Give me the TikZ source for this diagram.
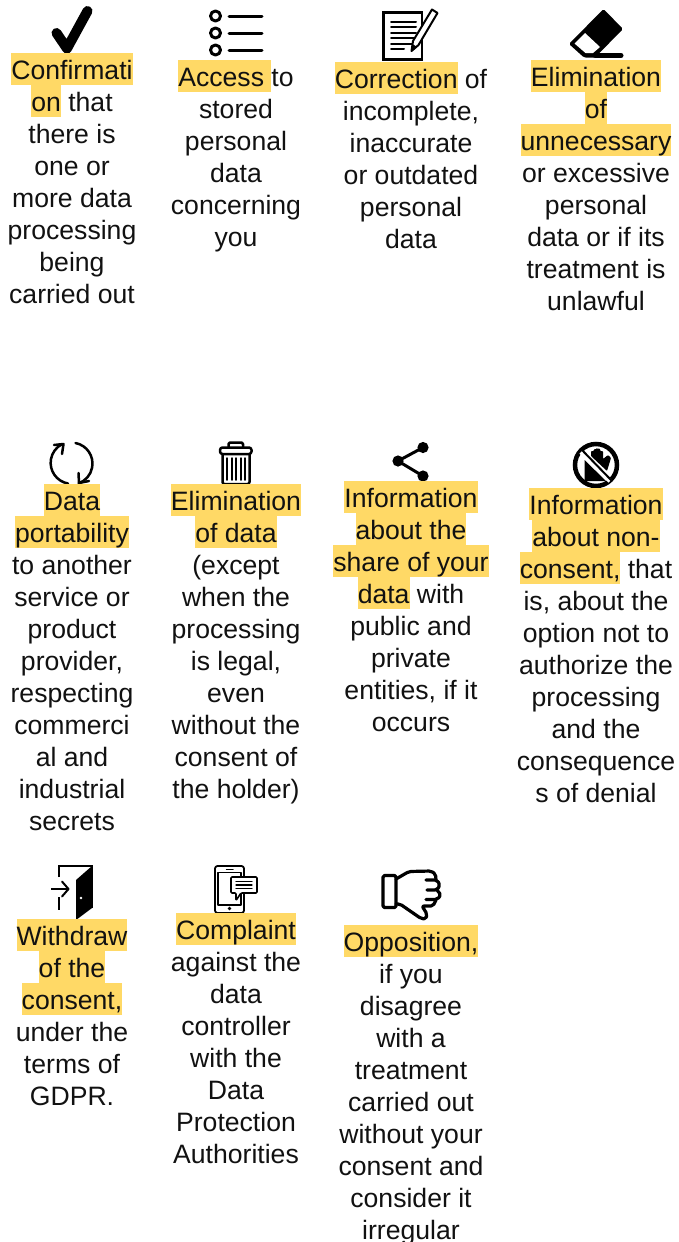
\documentclass[tikz,border=0pt]{standalone}
\usepackage{fontspec}
\setmainfont{Liberation Sans}
\definecolor{hlcol}{HTML}{FFD966}
\definecolor{txt}{HTML}{111111}
\setlength{\fboxsep}{0pt}
\newcommand{\hlx}[1]{\colorbox{hlcol}{\rule[-6pt]{0pt}{32pt}#1}}
\tikzset{
  block/.style={anchor=north,align=center,inner sep=0pt,text=txt,
     font=\fontsize{26.6}{32}\selectfont},
  ic/.style={line width=2.5pt,line cap=round,line join=round,draw=black},
  icthin/.style={line width=1.5pt,line cap=round,line join=round,draw=black},
}
\begin{document}
\begin{tikzpicture}[x=1pt,y=-1pt]
\useasboundingbox (0,0) rectangle (678,1242);
% check
\draw[black,line width=10pt,line cap=round,line join=round] (56.5,33) -- (67,48.5) -- (87.5,11);
% list
\foreach \yy in {16,33,50}{
  \draw[ic,line width=3pt] (215.5,\yy) circle (5);
  \draw[ic,line width=3pt] (229,\yy) -- (262,\yy);
}
% correction
\draw[ic,line join=miter] (383.5,12.5) rectangle (422,59.5);
\foreach \yy in {22,27,32.5,38,43.5}{\draw[ic,line width=2pt] (391,\yy) -- (416,\yy);}
\draw[ic,line width=2pt] (391,49) -- (404,49);
\draw[line width=2pt,line join=round,draw=black,fill=white] (411.5,51) -- (413,41) -- (432,9.5) -- (437.5,13) -- (418.5,45) -- cycle;
\fill[black] (411,52) -- (412.5,44) -- (417,47) -- cycle;
% eraser
\fill[black,rounded corners=1.5pt] (603.5,9) -- (623,29) -- (595,57.5) -- (584,57.5) -- (569,44) -- cycle;
\fill[white] (585,33) -- (600,47) -- (593,53) -- (585.5,53) -- (574.5,43.5) -- cycle;
\draw[black,line width=5pt,line cap=round] (595,55.5) -- (621,55.5);
% refresh
\draw[ic] (68,483.5) arc[start angle=100,end angle=243,radius=21];
\draw[ic] (54,445) -- (63.5,444) -- (62,454);
\draw[ic] (75.5,443) arc[start angle=-79,end angle=70,radius=21];
\draw[ic] (78.5,473) -- (79,483) -- (89,481);
% trash
\draw[ic,rounded corners=1.5pt] (228.5,447) -- (228.5,442.5) -- (243,442.5) -- (243,447);
\draw[ic,rounded corners=2.5pt] (220,447.5) rectangle (251.5,454);
\draw[ic,rounded corners=2pt] (222.5,454) -- (222.5,484) -- (249.5,484) -- (249.5,454);
\foreach \xx in {227,232,236,241,245}{\draw[icthin] (\xx,458) -- (\xx,480);}
% share
\draw[black,line width=3pt] (423,447.5) -- (398,461) -- (423,476);
\foreach \xx/\yy in {423/447.5,398/461,423/476}{\fill[black] (\xx,\yy) circle (5.6);}
% no-hand
\draw[black,line width=4.5pt] (596,465) circle (21);
\fill[black] (584.5,460) -- (584.5,481) -- (606,481) -- cycle;
\fill[black,rounded corners=.8pt] (591,456) -- (591,451) -- (594,451) -- (594,449) -- (597,449) -- (597,448.5) -- (600,448.5) -- (600,451) -- (603,451) -- (603,459) -- (608,455) -- (611,458) -- (607,471) -- cycle;
\draw[white,line width=4.5pt] (581,452) -- (610,481);
\draw[black,line width=2pt] (581,449) -- (612,481);
% door
\draw[ic,line cap=butt,line join=miter,line width=2pt] (58.5,877) -- (58.5,865.5) -- (92,865.5) -- (92,908);
\draw[ic,line width=2pt,line cap=butt] (58.5,897) -- (58.5,910);
\fill[black] (76,880) -- (92,866) -- (92,908) -- (76,920) -- cycle;
\fill[white] (81,898) circle (1.4);
\draw[ic,line width=2pt,line cap=butt] (51,889) -- (68,889);
\draw[ic,line width=2pt] (62,881.5) -- (68.5,889) -- (62,896.5);
% phone
\draw[ic,line width=1.8pt,rounded corners=2.5pt] (215,866) rectangle (244,913);
\draw[icthin] (218,872.5) rectangle (241,905);
\draw[icthin] (226.5,869.5) -- (233,869.5);
\fill[black] (229.5,908.5) circle (1.8);
\draw[icthin,fill=white,rounded corners=1pt,line width=1.6pt] (231,877) -- (257,877) -- (257,893) -- (241,893) -- (236,900.5) -- (236,893) -- (231,893) -- cycle;
\foreach \yy in {881.5,885,888.5}{\draw[icthin,line width=1.1pt] (236,\yy) -- (252,\yy);}
% thumbs down
\draw[ic,line width=3.2pt,rounded corners=1.5pt] (383,875.5) rectangle (396,907.5);
\draw[ic,line width=3.2pt,rounded corners=2pt] (396,879) -- (409,871.5) -- (431,871) -- (435.5,874) -- (436,880);
\draw[ic,line width=3.2pt,rounded corners=2pt] (426,880) -- (437,880) -- (440,885) -- (437,890) -- (427,890);
\draw[ic,line width=3.2pt,rounded corners=2pt] (437,890) -- (441,895) -- (437,899.5) -- (426,899.5);
\draw[ic,line width=3.2pt,rounded corners=2pt] (436,900) -- (433,906) -- (422,906) -- (427,914) -- (426,919) -- (421,918.5) -- (400,904) -- (396,904);
% text
\node[block] (b1) at (72,53) {\hlx{Confirmati}\\\hlx{on} that\\there is\\one or\\more data\\processing\\being\\carried out};
\node[block] (b2) at (236,60) {\hlx{Access\ }to\\stored\\personal\\data\\concerning\\you};
\node[block] (b3) at (411,62) {\hlx{Correction} of\\incomplete,\\inaccurate\\or outdated\\personal\\data};
\node[block] (b4) at (596,60) {\hlx{Elimination}\\\hlx{of}\\\hlx{unnecessary}\\or excessive\\personal\\data or if its\\treatment is\\unlawful};
\node[block] (b5) at (72,484) {\hlx{Data}\\\hlx{portability}\\to another\\service or\\product\\provider,\\respecting\\commerci\\al and\\industrial\\secrets};
\node[block] (b6) at (236,484) {\hlx{Elimination}\\\hlx{of data}\\(except\\when the\\processing\\is legal,\\even\\without the\\consent of\\the holder)};
\node[block] (b7) at (411,481) {\hlx{Information}\\\hlx{about the}\\\hlx{share of your}\\\hlx{data} with\\public and\\private\\entities, if it\\occurs};
\node[block] (b8) at (596,488) {\hlx{Information}\\\hlx{about non-}\\\hlx{consent,} that\\is, about the\\option not to\\authorize the\\processing\\and the\\consequence\\s of denial};
\node[block] (b9) at (72,919) {\hlx{Withdraw}\\\hlx{of the}\\\hlx{consent,}\\under the\\terms of\\GDPR.};
\node[block] (b10) at (236,913) {\hlx{Complaint}\\against the\\data\\controller\\with the\\Data\\Protection\\Authorities};
\node[block] (b11) at (411,925) {\hlx{Opposition,}\\if you\\disagree\\with a\\treatment\\carried out\\without your\\consent and\\consider it\\irregular};
\end{tikzpicture}
\end{document}
